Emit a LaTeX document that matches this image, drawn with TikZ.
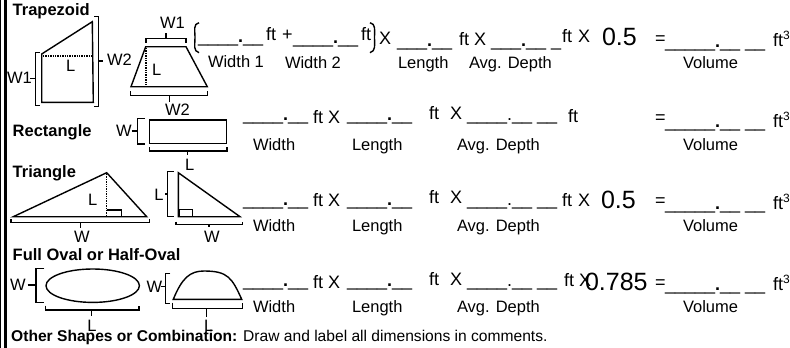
\documentclass[tikz,border=0pt]{standalone}
\usepackage{fontspec}
\setmainfont{Liberation Sans}

\newcommand{\blankA}{\_\_\_\_\textbf{.}\_\_}
\newcommand{\blankB}{\_\_\_\textbf{.}\_\_ \_}
\newcommand{\blankC}{\_\_\_\_.\_\_ \_\_}
\newcommand{\blankD}{\_\_\_\_\_\textbf{.}\_\_ \_\_}
\newcommand{\blankE}{\_\_\_\textbf{.}\_\_}
\newcommand{\cubed}{ft\raisebox{7pt}{\fontsize{12}{12}\selectfont 3}}

\tikzset{
    txt/.style={anchor=base west, inner sep=0pt, outer sep=0pt, font=\fontsize{18}{18}\selectfont},
    lab/.style={anchor=base west, inner sep=0pt, outer sep=0pt, font=\fontsize{16.5}{18}\selectfont},
    head/.style={lab, font=\fontsize{16.5}{18}\selectfont\bfseries},
    fact/.style={anchor=base west, inner sep=0pt, outer sep=0pt, font=\fontsize{25}{25}\selectfont},
    outline/.style={line width=1.4pt, line join=miter},
    brace/.style={line width=1.4pt},
    dots/.style={line width=1.4pt, densely dotted}
}

\begin{document}
\begin{tikzpicture}[x=1pt, y=-1pt]
    \useasboundingbox (0,0) rectangle (790,348);

    % left edge
    \draw [line width=1.2pt] (0.6,0) -- (0.6,348);
    \draw [line width=2.6pt] (5.5,0) -- (5.5,348);

    % headings
    \node [head] (trap) at (12.7,15.7) {Trapezoid};
    \node [head] (rect) at (12.7,136.7) {Rectangle};
    \node [head] (tri) at (12.7,177.3) {Triangle};
    \node [head] (oval) at (12.7,260.7) {Full Oval or Half-Oval};

    % trapezoid, first view
    \draw [outline] (41.7,54) -- (92.3,21.7) -- (93.3,102.3) -- (41.7,102.3) -- cycle;
    \draw [dots] (43,56) -- (92.3,56);
    \node [lab] (trapL) at (66,71.7) {L};
    \draw [brace] (40,52.3) -- (35.3,52.3) -- (35.3,105.7) -- (40,105.7);
    \draw [brace] (30,78.7) -- (35.3,78.7);
    \node [lab] (trapWa) at (7,83) {W1};
    \draw [brace] (94.3,16.7) -- (98.7,16.7) -- (98.7,106.7) -- (94.3,106.7);
    \draw [brace] (98.7,61) -- (103.3,61);
    \node [lab] (trapWb) at (107,65) {W2};

    % trapezoid, second view
    \draw [outline] (145.7,46.7) -- (186,46.7) -- (207.3,86.7) -- (131,86.7) -- cycle;
    \draw [dots] (146,48) -- (146,86);
    \node [lab] (trapbL) at (152,75) {L};
    \draw [brace] (146,42.7) -- (146,38.3) -- (186,38.3) -- (186,42.7);
    \draw [brace] (166,38.3) -- (166,33.3);
    \node [lab] (trapbWa) at (160,28) {W1};
    \draw [brace] (130.7,91) -- (130.7,95.7) -- (207.3,95.7) -- (207.3,91);
    \draw [brace] (169.3,95.7) -- (169.3,101.7);
    \node [lab] (trapbWb) at (165,115.7) {W2};

    % rectangle
    \draw [outline] (149.3,120) rectangle (226.7,143.3);
    \draw [brace] (145,118.3) -- (137.3,118.3) -- (137.3,144) -- (145,144);
    \draw [brace] (131.7,131) -- (137.3,131);
    \node [lab] (rectW) at (116,136.7) {W};
    \draw [brace] (149.7,147.3) -- (149.7,151) -- (227,151) -- (227,147.3);
    \draw [brace] (187.7,151) -- (187.7,155);
    \node [lab] (rectL) at (185,170.7) {L};

    % triangle, first view
    \draw [outline] (13.3,216.7) -- (106.7,172.7) -- (146.7,216.7) -- cycle;
    \draw [dots] (106.7,174) -- (106.7,215);
    \draw [outline] (106.7,210) -- (121.7,210) -- (121.7,216.7);
    \node [lab] (triL) at (88,205.7) {L};
    \draw [brace] (11,219) -- (11,222.7) -- (149.3,222.7) -- (149.3,219);
    \draw [brace] (80.7,222.7) -- (80.7,228.3);
    \node [lab] (triW) at (74,242.3) {W};

    % triangle, second view
    \draw [outline] (178.3,172.7) -- (178.3,216.7) -- (240,216.7) -- cycle;
    \draw [outline] (179,209.3) rectangle (192.7,216.7);
    \draw [brace] (174,171.7) -- (167.7,171.7) -- (167.7,216.7) -- (174,216.7);
    \draw [brace] (165,194) -- (167.7,194);
    \node [lab] (tribL) at (154.3,200.7) {L};
    \draw [brace] (176,221.7) -- (176,224.3) -- (242.3,224.3) -- (242.3,221.7);
    \draw [brace] (209,224.3) -- (209,227.3);
    \node [lab] (tribW) at (204,242.3) {W};

    % oval
    \draw [outline] (92.7,285.7) ellipse (46.7 and 16.7);
    \draw [brace] (44.3,268.3) -- (36,268.3) -- (36,302.3) -- (44.3,302.3);
    \draw [brace] (27.7,285) -- (36,285);
    \node [lab] (ovalW) at (10,290) {W};
    \draw [brace] (45.7,305.7) -- (45.7,310) -- (139,310) -- (139,305.7);
    \draw [brace] (91.7,310) -- (91.7,315.7);
    \node [lab] (ovalL) at (87.3,331) {L};

    % half oval
    \draw [outline] (173.3,299.3) .. controls (182,278) and (190,271) .. (204,271)
        .. controls (228,271) and (232,278) .. (241.7,299.3) -- cycle;
    \draw [brace] (170.3,273.3) -- (165.7,273.3) -- (165.7,303.3) -- (170.3,303.3);
    \draw [brace] (161,286.7) -- (165.7,286.7);
    \node [lab] (halfW) at (146.7,292.7) {W};
    \draw [brace] (172.7,302.7) -- (172.7,308.3) -- (242.7,308.3) -- (242.7,302.7);
    \draw [brace] (206.7,308.3) -- (206.7,316.7);
    \node [lab] (halfL) at (204,331) {L};

    % first row
    \draw [brace] (199,22.7) .. controls (193,24) and (195,30) .. (195,37.7)
        .. controls (195,45) and (193,51) .. (199,52.7);
    \draw [brace] (370,22.7) .. controls (376,24) and (374.5,30) .. (374.5,37.7)
        .. controls (374.5,45) and (376,51) .. (370,52.7);
    \node [txt] (aa) at (198,42) {\blankA};
    \node [txt] (ab) at (266,40) {ft};
    \node [txt] (ac) at (282,40) {+};
    \node [txt] (ad) at (293,43) {\blankA};
    \node [txt] (ae) at (361,40) {ft};
    \node [txt] (af) at (379,44.5) {X};
    \node [txt] (ag) at (397,46) {\blankE};
    \node [txt] (ah) at (459,45) {ft};
    \node [txt] (ai) at (474,45) {X};
    \node [txt] (aj) at (491,46) {\blankB};
    \node [txt] (ak) at (562,42) {ft};
    \node [txt] (al) at (578,42) {X};
    \node [fact] (am) at (602,45) {0.5};
    \node [txt] (an) at (655,44) {=};
    \node [txt] (ao) at (665,47) {\blankD};
    \node [txt] (ap) at (773,46) {\cubed};
    \node [lab] (aq) at (208,67) {Width 1};
    \node [lab] (ar) at (285,68) {Width 2};
    \node [lab] (as) at (398,68) {Length};
    \node [lab] (at) at (469,68) {Avg. Depth};
    \node [lab] (au) at (683,68) {Volume};

    % rows with the same columns
    \foreach \rw/\ya/\yb/\yc/\yd/\yl in {b/120.5/123/119/127/150, c/205.5/206/203.5/209/231, d/286/288/285.7/290/312.5} {
        \node [txt] (\rw a) at (243,\ya) {\blankA};
        \node [txt] (\rw b) at (313,\yb) {ft};
        \node [txt] (\rw c) at (328,\yb) {X};
        \node [txt] (\rw d) at (347,\ya) {\blankA};
        \node [txt] (\rw e) at (429,\yc) {ft};
        \node [txt] (\rw f) at (450,\yc) {X};
        \node [txt] (\rw g) at (467,\ya) {\blankC};
        \node [txt] (\rw h) at (655,\yb) {=};
        \node [txt] (\rw i) at (665,\yd) {\blankD};
        \node [txt] (\rw j) at (773,\yd) {\cubed};
        \node [lab] (\rw k) at (253,\yl) {Width};
        \node [lab] (\rw l) at (352,\yl) {Length};
        \node [lab] (\rw m) at (457,\yl) {Avg. Depth};
        \node [lab] (\rw n) at (683,\yl) {Volume};
    }

    % ends of the rows
    \node [txt] (bo) at (568,122) {ft};
    \node [txt] (co) at (562,206) {ft};
    \node [txt] (cp) at (578,206) {X};
    \node [fact] (cq) at (601,208) {0.5};
    \node [txt] (do) at (564,286) {ft};
    \node [txt] (dp) at (579,286) {X};
    \node [fact] (dq) at (585,290.7) {0.785};

    % last line
    \node [anchor=base west, inner sep=0pt, font=\fontsize{15.6}{18}\selectfont] (other) at (11,341)
        {\textbf{Other Shapes or Combination:} Draw and label all dimensions in comments.};
\end{tikzpicture}
\end{document}
